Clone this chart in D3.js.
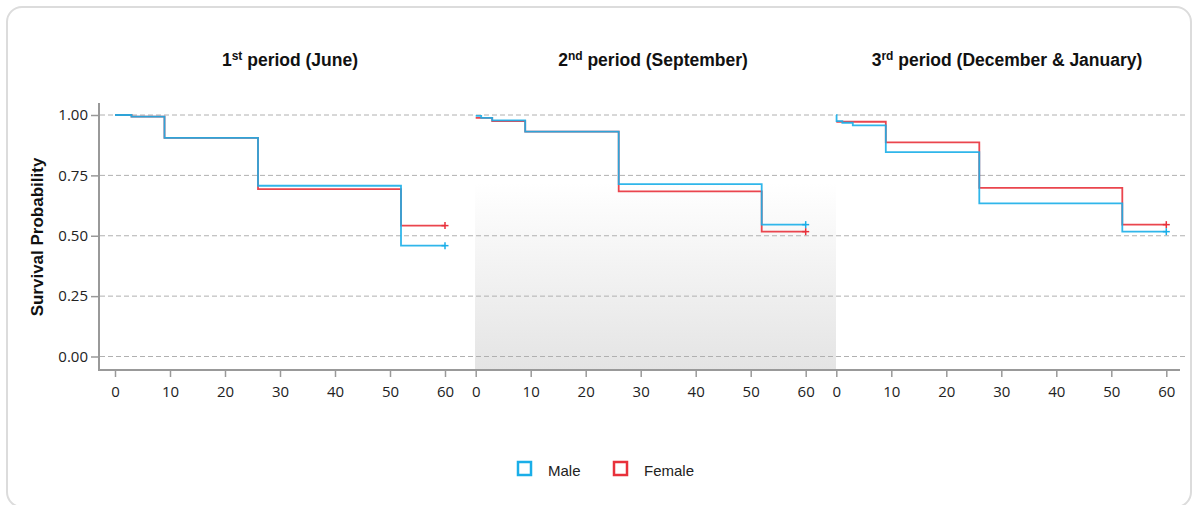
<!DOCTYPE html>
<html><head><meta charset="utf-8">
<script src="https://cdn.jsdelivr.net/npm/d3@7/dist/d3.min.js"></script>
<style>body{margin:0;background:#fff}svg{display:block}</style>
</head><body>
<svg id="c" width="1197" height="505"></svg>
<script>
// ---- data ----
const periods = [
  {sup: "st", num: "1", rest: " period (June)"},
  {sup: "nd", num: "2", rest: " period (September)"},
  {sup: "rd", num: "3", rest: " period (December & January)"}
];
const groups = ["Male", "Female"];
const xTicks = [0, 10, 20, 30, 40, 50, 60];
const yTicks = [0, 0.25, 0.5, 0.75, 1.0];
// [time, survival]
const male1 = [[0,1.0],[3,0.993],[9,0.905],[26,0.707],[52,0.459],[60,0.459]];
const female1 = [[0,1.0],[3,0.993],[9,0.905],[26,0.693],[52,0.542],[60,0.542]];
const male2 = [[0,0.996],[1,0.988],[3,0.978],[9,0.931],[26,0.714],[52,0.546],[60,0.546]];
const female2 = [[0,0.988],[3,0.975],[9,0.931],[26,0.684],[52,0.517],[60,0.517]];
const male3 = [[0,1.0],[0.05,0.975],[1.1,0.968],[3,0.957],[9,0.846],[26,0.634],[52,0.517],[60,0.517]];
const female3 = [[0,0.972],[9,0.887],[26,0.698],[52,0.546],[60,0.546]];
const series = [[male1, female1],[male2, female2],[male3, female3]];
const colors = {Male: "#1aaee8", Female: "#e8313b"};

// ---- layout ----
const svg = d3.select("#c");
svg.append("rect").attr("x",7).attr("y",7).attr("width",1184).attr("height",500)
  .attr("rx",15).attr("fill","#fff").attr("stroke","#dcdcdc").attr("stroke-width",2);

const defs = svg.append("defs");
const lg = defs.append("linearGradient").attr("id","band").attr("x1",0).attr("y1",0).attr("x2",0).attr("y2",1);
lg.append("stop").attr("offset","0%").attr("stop-color","#ffffff");
lg.append("stop").attr("offset","100%").attr("stop-color","#e4e4e4");

const y = d3.scaleLinear().domain([0,1]).range([356.5,115]);
const panelX0 = [115, 475.7, 836.3];
const panelW = 330;
const panelEdges = [[99,475],[475,836],[836,1180]];
const titleX = [290, 653, 1007];
const axisY = 370;
const tickFont = "Open Sans, sans-serif";
const boldFont = "Liberation Sans, Arial, sans-serif";

// shaded middle panel
svg.append("rect").attr("x",panelEdges[1][0]).attr("y",183)
  .attr("width",panelEdges[1][1]-panelEdges[1][0]).attr("height",axisY-183)
  .attr("fill","url(#band)");

// gridlines
svg.append("g").selectAll("line").data(yTicks).join("line")
  .attr("x1",100).attr("x2",1185).attr("y1",d=>y(d)).attr("y2",d=>y(d))
  .attr("stroke","#b0b0b0").attr("stroke-width",1).attr("stroke-dasharray","5,3");

// y axis
const yAx = svg.append("g").attr("transform","translate(99,0)")
  .call(d3.axisLeft(y).tickValues(yTicks).tickFormat(d3.format(".2f")).tickSize(8).tickPadding(3));
yAx.select(".domain").remove();
yAx.selectAll(".tick line").attr("stroke","#999").attr("stroke-width",1.5);
yAx.selectAll(".tick text").attr("font-family",tickFont).attr("font-size",15).attr("fill","#222");
svg.append("line").attr("x1",99).attr("x2",99).attr("y1",103).attr("y2",axisY+1)
  .attr("stroke","#999").attr("stroke-width",2);
svg.append("line").attr("x1",98).attr("x2",1180).attr("y1",axisY).attr("y2",axisY)
  .attr("stroke","#999").attr("stroke-width",2);

svg.append("text").attr("transform","translate(43,237) rotate(-90)")
  .attr("text-anchor","middle").attr("font-family",boldFont)
  .attr("font-weight","bold").attr("font-size",17).attr("fill","#111").text("Survival Probability");

const line = d3.line().curve(d3.curveStepAfter);

periods.forEach((p,i)=>{
  const x = d3.scaleLinear().domain([0,60]).range([panelX0[i], panelX0[i]+panelW]);
  const xAx = svg.append("g").attr("transform",`translate(0,${axisY})`)
    .call(d3.axisBottom(x).tickValues(xTicks).tickSize(7).tickPadding(9));
  xAx.select(".domain").remove();
  xAx.selectAll(".tick line").attr("stroke","#999").attr("stroke-width",1.5);
  xAx.selectAll(".tick text").attr("font-family",tickFont).attr("font-size",15).attr("fill","#222");

  const t = svg.append("text").attr("x",titleX[i]).attr("y",66).attr("text-anchor","middle")
    .attr("font-family",boldFont).attr("font-weight","bold")
    .attr("font-size",17.5).attr("fill","#111");
  t.append("tspan").text(p.num);
  t.append("tspan").attr("font-size",12).attr("dy",-6).text(p.sup);
  t.append("tspan").attr("dy",6).text(p.rest);

  // female first, then male on top
  [1,0].forEach(g=>{
    const data = series[i][g];
    const col = colors[groups[g]];
    svg.append("path").attr("d", line(data.map(d=>[x(d[0]), y(d[1])])))
      .attr("fill","none").attr("stroke",col).attr("stroke-width",1.8).attr("opacity",0.9);
    const last = data[data.length-1];
    const cx = x(last[0]), cy = y(last[1]);
    svg.append("line").attr("x1",cx).attr("x2",cx).attr("y1",cy-3.5).attr("y2",cy+3.5)
      .attr("stroke",col).attr("stroke-width",1.5);
    svg.append("line").attr("x1",cx-3.5).attr("x2",cx+3.5).attr("y1",cy).attr("y2",cy)
      .attr("stroke",col).attr("stroke-width",1.5);
  });
});

// legend
const legX = [518, 614];
groups.forEach((g,i)=>{
  svg.append("rect").attr("x",legX[i]).attr("y",462).attr("width",13).attr("height",13)
    .attr("fill","#fff").attr("stroke",colors[g]).attr("stroke-width",2.5);
  svg.append("text").attr("x",legX[i]+30).attr("y",476)
    .attr("font-family",boldFont).attr("font-size",15).attr("fill","#222").text(g);
});
</script>
</body></html>
